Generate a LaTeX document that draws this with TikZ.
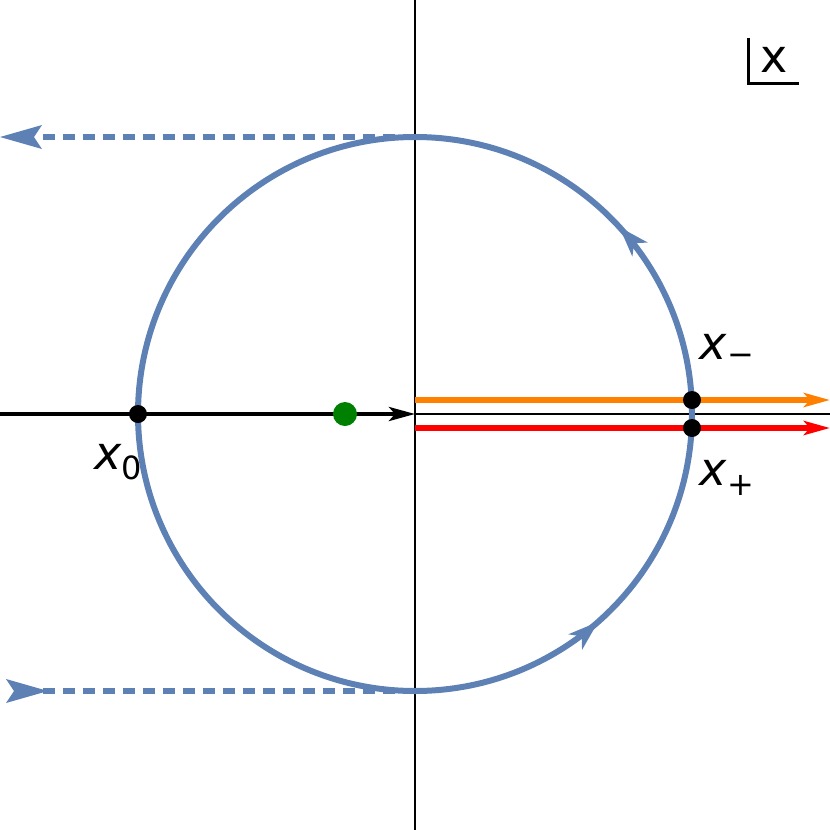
\documentclass[tikz,border=0pt]{standalone}
\usepackage{fontspec}
\setmainfont{DejaVu Sans}
\usetikzlibrary{arrows.meta,decorations.markings}
\definecolor{mblue}{rgb}{0.368,0.506,0.709}
\definecolor{morange}{rgb}{1,0.5,0}
\definecolor{mgreen}{rgb}{0,0.5,0}
\newcommand{\lab}[1]{\textit{x}\raisebox{-10pt}{\fontsize{32}{32}\selectfont #1}}
\begin{document}
\begin{tikzpicture}[x=1pt,y=-1pt,
  tip/.style={-{Stealth[length=26pt,width=14pt,inset=6pt]}},
  dot/.style={circle,fill=black,inner sep=0pt,minimum size=18pt},
  lbl/.style={font=\fontsize{46}{46}\selectfont,inner sep=0pt}]
\useasboundingbox (0,0) rectangle (830,830);
\coordinate (O) at (415,414);
\draw[line width=1.8pt] (415,0) -- (415,830);
\draw[line width=1.8pt] (415,414) -- (830,414);
\draw[line width=4pt,tip] (0,414) -- (O);
\draw[line width=5.5pt,morange,tip] (415,400) -- (830,400);
\draw[line width=5.5pt,red,tip] (415,428) -- (830,428);
\draw[line width=6.5pt,mblue,dash pattern=on 12pt off 8pt] (415,137) -- (40,137);
\draw[line width=6.5pt,mblue,dash pattern=on 12pt off 8pt] (415,691) -- (40,691);
\path[fill=mblue] (0,137) -- (42,125) -- (34,137) -- (42,149) -- cycle;
\path[fill=mblue] (48,691) -- (6,679) -- (14,691) -- (6,703) -- cycle;
\draw[line width=6pt,mblue,postaction={decorate},
  decoration={markings,
   mark=at position 0.118 with {\arrow{Stealth[length=30pt,width=20pt,inset=8pt]}},
   mark=at position 0.865 with {\arrow{Stealth[length=30pt,width=20pt,inset=8pt]}}}]
  (692,414) arc[start angle=0,end angle=-360,radius=277];
\node[dot] (x0) at (138,414) {};
\node[dot] (xm) at (692,400) {};
\node[dot] (xp) at (692,428) {};
\node[circle,fill=mgreen,inner sep=0pt,minimum size=24pt] (g) at (345,414) {};
\node[lbl] at (118,462) {\lab{0}};
\node[lbl] at (727,352) {\lab{\raisebox{4pt}{−}}};
\node[lbl] at (727,478) {\lab{+}};
\node[lbl] (im) at (774,60) {x};
\draw[line width=3pt] (748,38) -- (748,83) -- (799,83);
\end{tikzpicture}
\end{document}
